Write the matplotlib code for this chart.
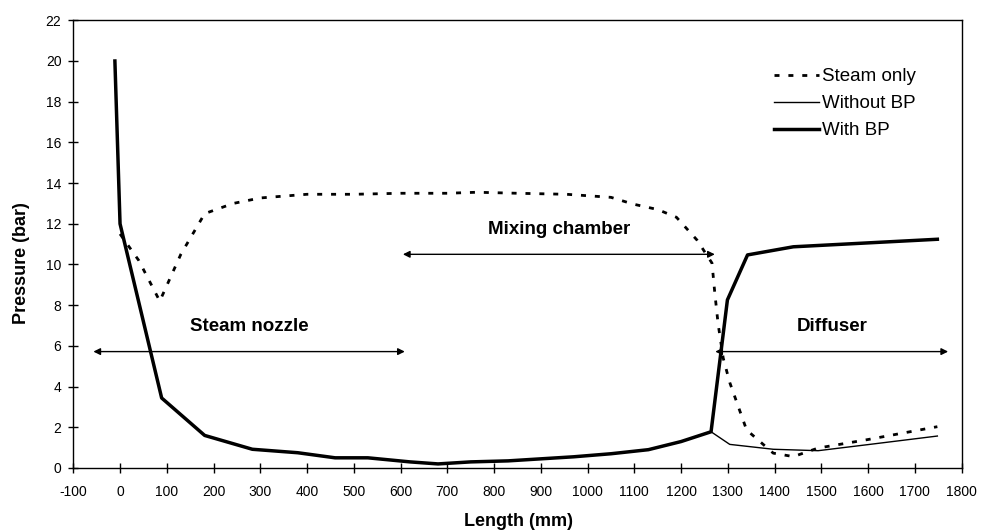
import matplotlib.pyplot as plt

plt.rcParams['font.family'] = ['Liberation Sans', 'DejaVu Sans']
plt.rcParams['axes.unicode_minus'] = False

# data
steam_x = [0, 40, 85, 130, 181, 242, 300, 400, 500, 600, 700, 763, 850, 955, 1050, 1097,
           1150, 1190, 1234, 1266, 1272, 1279, 1290, 1304, 1340, 1397, 1440, 1493, 1600, 1748]
steam_y = [11.5, 10.2, 8.2, 10.5, 12.5, 13.0, 13.27, 13.45, 13.45, 13.5, 13.5, 13.55, 13.5, 13.45,
           13.3, 12.97, 12.7, 12.32, 11.2, 10.07, 8.6, 7.1, 5.4, 4.2, 1.87, 0.73, 0.56, 0.98, 1.4, 2.03]

common_x = [-11, 0, 89, 181, 283, 380, 460, 530, 620, 680, 750, 830, 900, 970, 1050, 1130, 1200, 1264]
common_y = [20.0, 12.0, 3.44, 1.6, 0.92, 0.75, 0.5, 0.5, 0.3, 0.2, 0.3, 0.35, 0.45, 0.55, 0.7, 0.9, 1.3, 1.78]

nobp_x = common_x + [1304, 1397, 1493, 1600, 1748]
nobp_y = common_y + [1.16, 0.92, 0.85, 1.15, 1.57]

bp_x = common_x + [1299, 1342, 1440, 1748]
bp_y = common_y + [8.26, 10.47, 10.87, 11.24]

regions = [('Steam nozzle', -57, 609, 5.72, 6.94),
           ('Mixing chamber', 605, 1272, 10.5, 11.7),
           ('Diffuser', 1273, 1771, 5.72, 6.93)]

fig = plt.figure(figsize=(9.81, 5.30), dpi=100)
ax = fig.add_axes([0.0747, 0.117, 0.9056, 0.8447])

ax.plot(steam_x, steam_y, color='black', linewidth=2, linestyle=(0, (1.8, 3.2)), label='Steam only')
ax.plot(nobp_x, nobp_y, color='black', linewidth=1, label='Without BP')
ax.plot(bp_x, bp_y, color='black', linewidth=2.5, label='With BP')

for name, x0, x1, ya, yt in regions:
    ax.annotate('', xy=(x0, ya), xytext=(x1, ya),
                arrowprops=dict(arrowstyle='<|-|>', color='black', lw=1,
                                mutation_scale=10, shrinkA=0, shrinkB=0))
    ax.text((x0 + x1) / 2, yt, name, ha='center', va='center', fontsize=13.5, fontweight='bold')

ax.set_xlim(-100, 1800)
ax.set_ylim(0, 22)
ax.set_xticks(range(-100, 1801, 100))
ax.set_yticks(range(0, 23, 2))
ax.tick_params(direction='inout', length=7, width=1, labelsize=10)
ax.tick_params(axis='x', pad=9)
ax.tick_params(axis='y', pad=5)
for s in ax.spines.values():
    s.set_linewidth(1)

ax.set_xlabel('Length (mm)', fontsize=13, fontweight='bold')
ax.set_ylabel('Pressure (bar)', fontsize=13, fontweight='bold')
ax.xaxis.set_label_coords(0.5017, -0.1005)
ax.yaxis.set_label_coords(-0.0487, 0.458)

ax.legend(loc='upper left', bbox_to_anchor=(0.789, 0.893), frameon=False, fontsize=13.5,
          borderaxespad=0, borderpad=0, handlelength=2.4, handletextpad=0.15, labelspacing=0.52)

plt.savefig('out.png', dpi=100)
